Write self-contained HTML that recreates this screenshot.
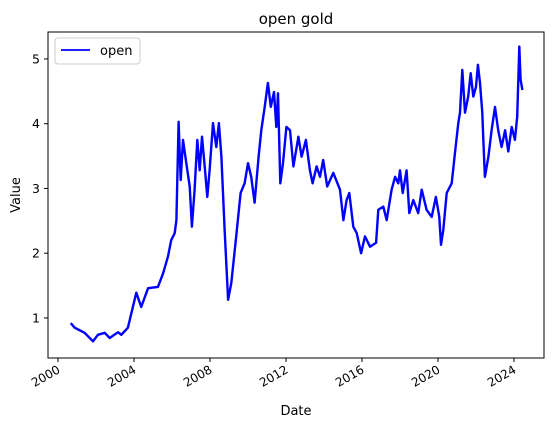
<!DOCTYPE html>
<html><head><meta charset="utf-8"><style>
body{margin:0;background:#fff;width:554px;height:427px;overflow:hidden}
text{font-family:"DejaVu Sans","Liberation Sans",sans-serif;fill:#000}
</style></head><body>
<svg id="chart" width="554" height="427">
<rect width="554" height="427" fill="#fff"/>
<text x="296" y="24" font-size="15" text-anchor="middle">open gold</text>
<g id="plot"></g>
<rect x="48" y="32" width="496" height="326" fill="none" stroke="#000" stroke-width="1"/>
<g id="xaxis"></g><g id="yaxis"></g>
<text x="296" y="415" font-size="13" text-anchor="middle">Date</text>
<text x="20" y="195" font-size="13" text-anchor="middle" transform="rotate(-90 20 195)">Value</text>
<g>
<rect x="55" y="38" width="85" height="26" rx="3" fill="#fff" stroke="#ccc"/>
<line x1="61" y1="50" x2="90" y2="50" stroke="#0000ff" stroke-width="1.8"/>
<text x="100" y="55" font-size="13">open</text>
</g>
</svg>
<script>
const years=[2000.67,2000.88,2001.4,2001.84,2002.1,2002.46,2002.72,2003.16,2003.33,2003.68,2004.12,2004.38,2004.74,2005.26,2005.53,2005.79,2005.96,2006.14,2006.23,2006.35,2006.46,2006.58,2006.75,2006.93,2007.05,2007.19,2007.33,2007.46,2007.58,2007.72,2007.86,2007.98,2008.16,2008.33,2008.47,2008.6,2008.77,2008.95,2009.12,2009.38,2009.61,2009.82,2010.0,2010.17,2010.35,2010.56,2010.7,2010.88,2011.05,2011.2,2011.37,2011.49,2011.58,2011.7,2011.84,2012.02,2012.21,2012.39,2012.65,2012.82,2013.05,2013.26,2013.4,2013.61,2013.79,2013.96,2014.17,2014.49,2014.84,2015.02,2015.19,2015.33,2015.54,2015.72,2015.95,2016.16,2016.42,2016.74,2016.86,2017.12,2017.3,2017.56,2017.74,2017.91,2018.0,2018.14,2018.35,2018.49,2018.7,2018.96,2019.14,2019.4,2019.67,2019.89,2020.07,2020.16,2020.28,2020.46,2020.72,2020.89,2021.07,2021.16,2021.28,2021.42,2021.59,2021.72,2021.86,2022.0,2022.1,2022.21,2022.33,2022.38,2022.47,2022.65,2022.82,2023.0,2023.17,2023.35,2023.53,2023.7,2023.88,2024.05,2024.17,2024.28,2024.35,2024.44];
const openVals=[0.92,0.85,0.77,0.64,0.74,0.77,0.69,0.78,0.74,0.85,1.39,1.17,1.46,1.48,1.69,1.95,2.2,2.31,2.51,4.03,3.13,3.75,3.39,3.03,2.41,2.98,3.75,3.28,3.8,3.34,2.87,3.28,4.01,3.64,4.01,3.49,2.37,1.28,1.54,2.26,2.93,3.08,3.39,3.18,2.78,3.49,3.9,4.26,4.63,4.26,4.49,3.95,4.47,3.08,3.39,3.95,3.9,3.34,3.8,3.49,3.75,3.28,3.08,3.34,3.18,3.44,3.03,3.24,2.98,2.51,2.82,2.93,2.41,2.31,2.0,2.26,2.1,2.16,2.67,2.72,2.51,2.98,3.18,3.08,3.28,2.93,3.28,2.62,2.82,2.62,2.98,2.67,2.56,2.87,2.56,2.13,2.36,2.93,3.08,3.54,4.01,4.17,4.83,4.17,4.42,4.78,4.42,4.57,4.91,4.63,4.17,3.8,3.18,3.49,3.9,4.26,3.9,3.64,3.9,3.57,3.95,3.75,4.11,5.19,4.68,4.52];
const xTicks=[2000,2004,2008,2012,2016,2020,2024];
const yTicks=[1,2,3,4,5];
const NS="http://www.w3.org/2000/svg";
function xs(y){return 58+(y-2000)*19;}
function ys(v){return 382.7-v*64.75;}
const plot=document.getElementById('plot');
const pl=document.createElementNS(NS,'polyline');
pl.setAttribute('points',years.map((y,i)=>xs(y).toFixed(1)+','+ys(openVals[i]).toFixed(1)).join(' '));
pl.setAttribute('fill','none');pl.setAttribute('stroke','#0000ff');pl.setAttribute('stroke-width','2.4');pl.setAttribute('stroke-linejoin','round');


plot.appendChild(pl);
const xa=document.getElementById('xaxis');
xTicks.forEach(t=>{
 const x=xs(t);
 const l=document.createElementNS(NS,'line');
 l.setAttribute('x1',x);l.setAttribute('x2',x);l.setAttribute('y1',358);l.setAttribute('y2',362);l.setAttribute('stroke','#000');
 
 
 xa.appendChild(l);
 const tx=document.createElementNS(NS,'text');
 tx.setAttribute('x',x+3);tx.setAttribute('y',372);tx.setAttribute('font-size','12');tx.setAttribute('text-anchor','end');
 tx.setAttribute('transform','rotate(-30 '+(x+3)+' 372)');
 tx.textContent=t;
 
 
 xa.appendChild(tx);
});
const ya=document.getElementById('yaxis');
yTicks.forEach(t=>{
 const y=ys(t);
 const l=document.createElementNS(NS,'line');
 l.setAttribute('x1',44);l.setAttribute('x2',48);l.setAttribute('y1',y);l.setAttribute('y2',y);l.setAttribute('stroke','#000');
 
 
 ya.appendChild(l);
 const tx=document.createElementNS(NS,'text');
 tx.setAttribute('x',40);tx.setAttribute('y',y+4.5);tx.setAttribute('font-size','12.5');tx.setAttribute('text-anchor','end');
 tx.textContent=t;
 
 
 ya.appendChild(tx);
});
</script>
</body></html>
